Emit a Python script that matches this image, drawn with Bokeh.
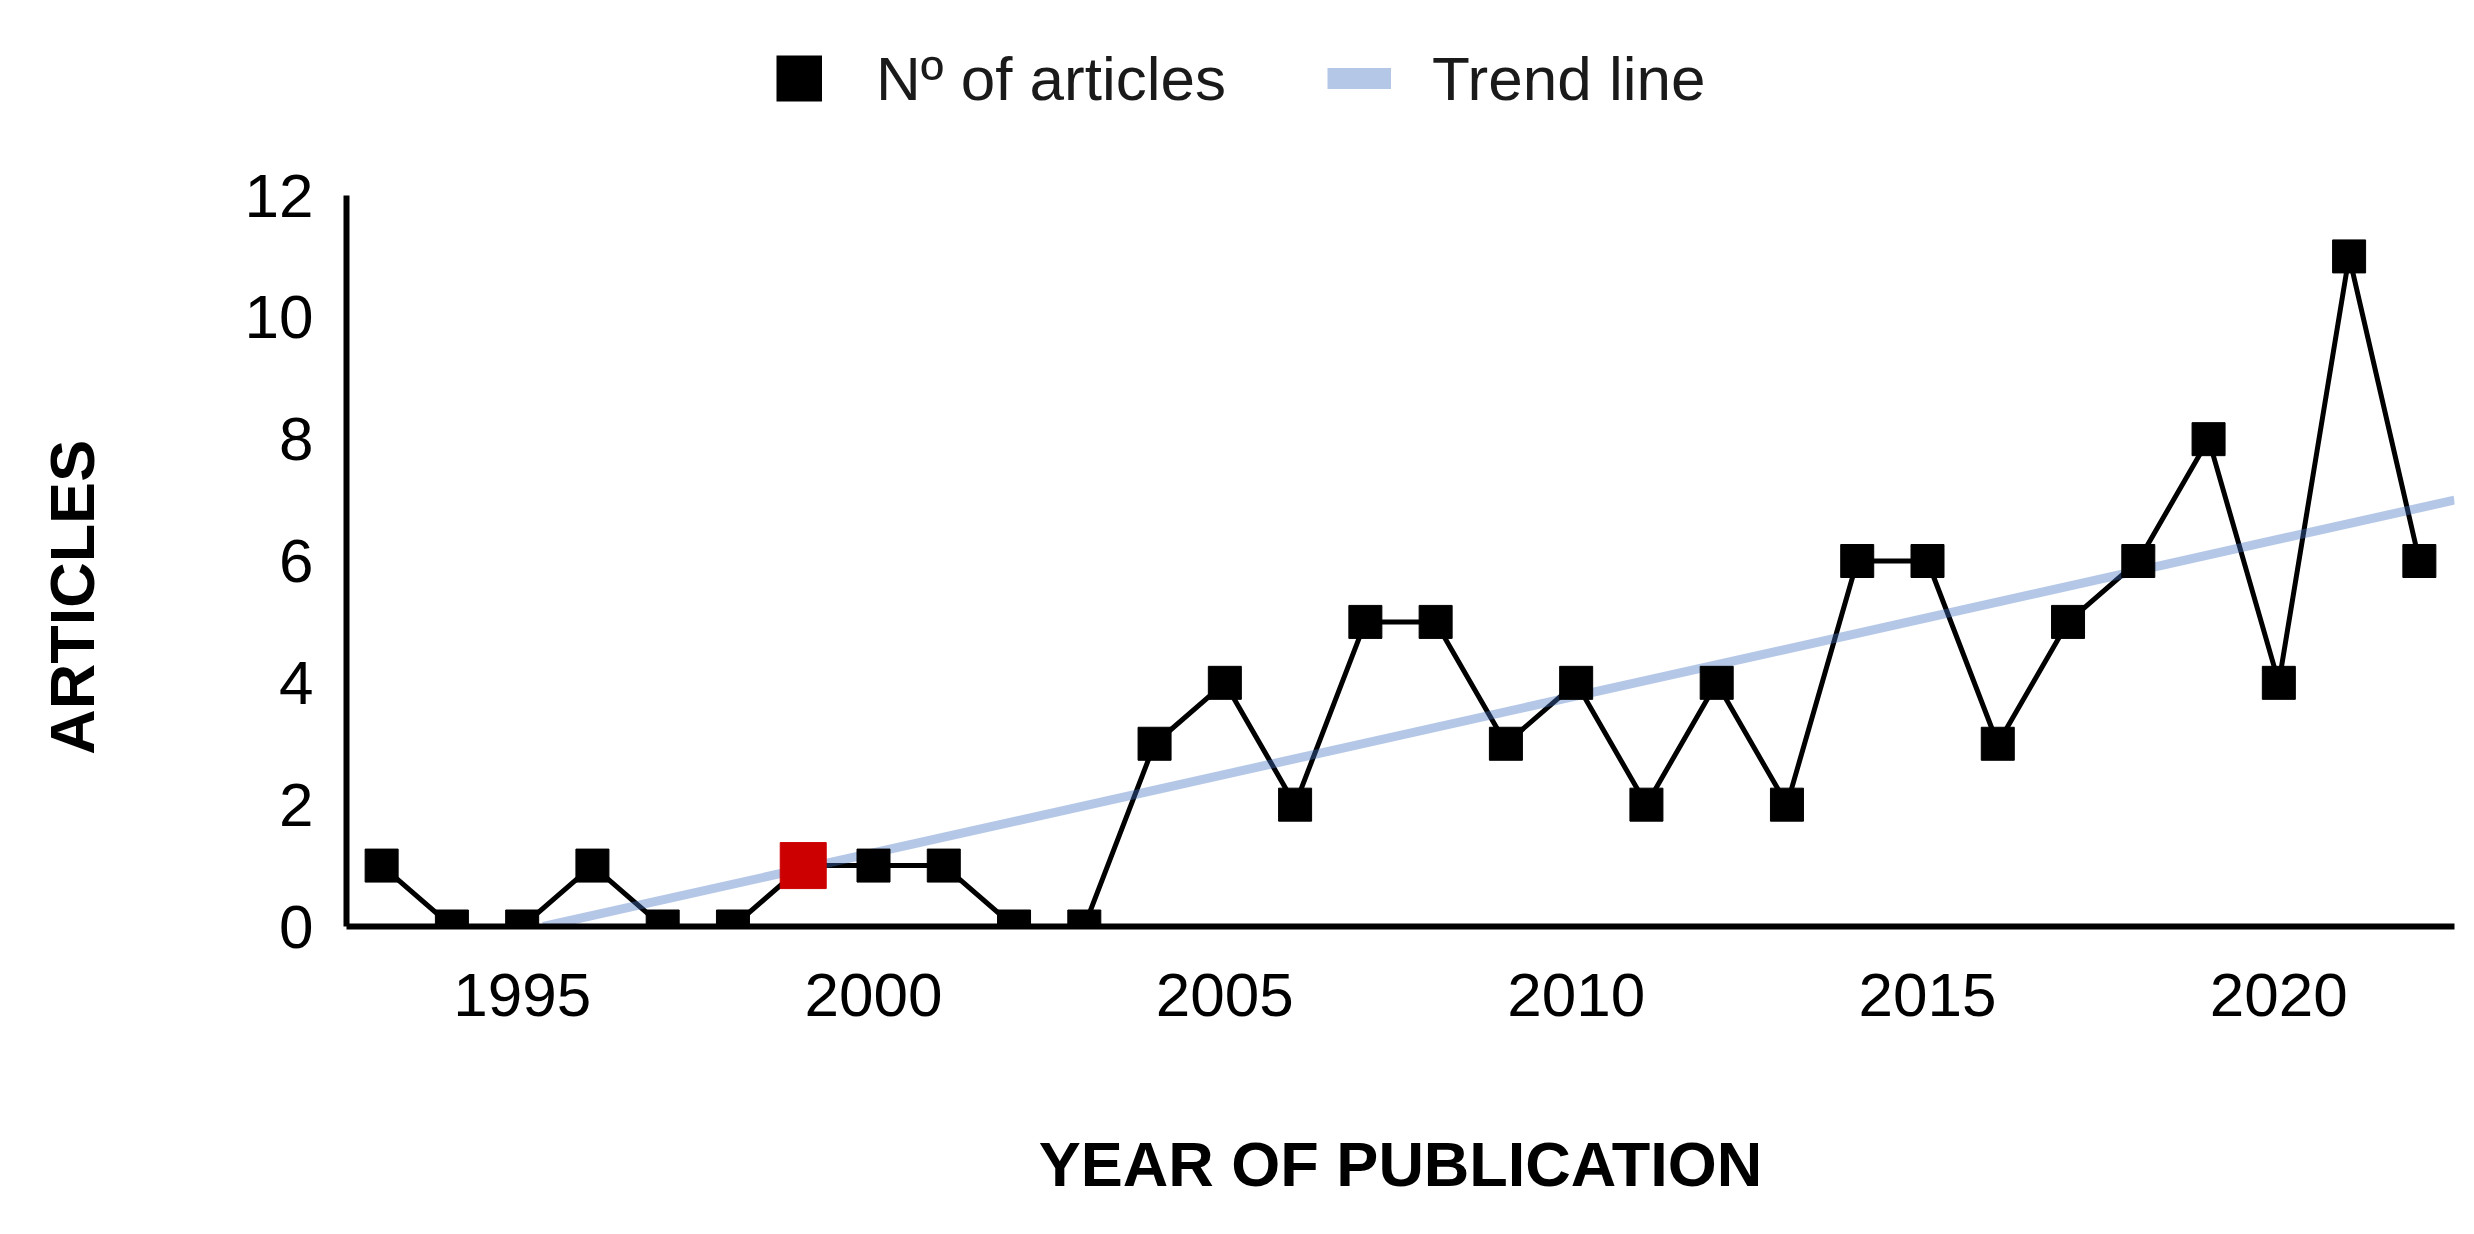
from bokeh.plotting import figure
from bokeh.layouts import column, row
from bokeh.models import Range1d, FixedTicker, Label, Legend, LegendItem, ColumnDataSource
from bokeh.embed import file_html
from bokeh.resources import INLINE

# ---- data ----
years = [1993, 1994, 1995, 1996, 1997, 1998, 1999, 2000, 2001, 2002, 2003, 2004, 2005, 2006,
         2007, 2008, 2009, 2010, 2011, 2012, 2013, 2014, 2015, 2016, 2017, 2018, 2019, 2020,
         2021, 2022]
articles = [1, 0, 0, 1, 0, 0, 1, 1, 1, 0, 0, 3, 4, 2, 5, 5, 3, 4, 2, 4, 2, 6, 6, 3, 5, 6, 8, 4, 11, 6]
highlight_year = [1999]
highlight_value = [1]
trend_x = [1995.3, 2022.5]
trend_y = [0.0, 7.0]
x_ticks = [1995, 2000, 2005, 2010, 2015, 2020]
y_ticks = [0, 2, 4, 6, 8, 10, 12]

FONT = "Liberation Sans"
BLACK_C = "black"
RED_C = "#CC0000"
TREND_C = "#4472C4"
TREND_A = 0.4

TOTAL_W = 2466
LEG_H = 140
LAB_W = 130
MAIN_H = 1086


def bare(width, height):
    f = figure(width=width, height=height, output_backend="svg", toolbar_location=None,
               x_range=Range1d(0, width), y_range=Range1d(0, height),
               x_axis_type=None, y_axis_type=None,
               min_border_left=0, min_border_right=0, min_border_top=0, min_border_bottom=0)
    f.outline_line_color = None
    f.xgrid.grid_line_color = None
    f.ygrid.grid_line_color = None
    f.background_fill_color = "white"
    f.border_fill_color = "white"
    return f


# ---- legend strip (swatch renderers are hidden; only their legend glyphs are shown) ----
lf = bare(TOTAL_W, LEG_H)
sw_art = lf.line(x=years, y=articles, line_color=BLACK_C, line_width=46, line_cap="butt",
                 visible=False)
sw_tr = lf.line(x=trend_x, y=trend_y, line_color=TREND_C, line_alpha=TREND_A, line_width=21,
                line_cap="butt", visible=False)


def make_legend(fig, label, renderer, gw, standoff, loc):
    lg = Legend(items=[LegendItem(label=label, renderers=[renderer])], location=loc,
                glyph_width=gw, glyph_height=80, label_standoff=standoff, label_height=80,
                padding=0, margin=0, spacing=0, border_line_color=None,
                background_fill_alpha=0, inactive_fill_alpha=0,
                label_text_font=FONT, label_text_font_size="62px",
                label_text_color="#1a1a1a", label_text_baseline="middle")
    fig.add_layout(lg, "center")


make_legend(lf, "Nº of articles", sw_art, 46, 54, (776, 22))
make_legend(lf, "Trend line", sw_tr, 64, 41, (1327, 22))

# ---- y title strip (its frame is aligned with the main chart's frame by the row) ----
tf = bare(LAB_W, MAIN_H)
tf.add_layout(Label(x=71, y=489, text="ARTICLES", angle=90, angle_units="deg",
                    text_align="center", text_baseline="middle", text_font=FONT,
                    text_font_size="63px", text_font_style="bold", text_color="black"))

# ---- main chart ----
p = figure(width=TOTAL_W - LAB_W, height=MAIN_H, output_backend="svg", toolbar_location=None,
           x_range=Range1d(1992.5, 2022.5), y_range=Range1d(0, 12),
           min_border_left=216, min_border_right=12, min_border_top=55, min_border_bottom=300)
p.outline_line_color = None
p.background_fill_color = "white"
p.border_fill_color = "white"
p.xgrid.grid_line_color = None
p.ygrid.grid_line_color = None

for ax in (p.xaxis[0], p.yaxis[0]):
    ax.axis_line_color = "black"
    ax.axis_line_width = 6
    ax.major_tick_out = 0
    ax.major_tick_in = 0
    ax.minor_tick_out = 0
    ax.minor_tick_in = 0
    ax.major_label_text_font = FONT
    ax.major_label_text_font_size = "62px"
    ax.major_label_text_color = "black"

p.xaxis[0].ticker = FixedTicker(ticks=x_ticks)
p.yaxis[0].ticker = FixedTicker(ticks=y_ticks)
p.xaxis[0].major_label_standoff = 47
p.yaxis[0].major_label_standoff = 33
p.xaxis[0].axis_label = "YEAR OF PUBLICATION"
p.xaxis[0].axis_label_text_font = FONT
p.xaxis[0].axis_label_text_font_size = "63px"
p.xaxis[0].axis_label_text_font_style = "bold"
p.xaxis[0].axis_label_text_color = "black"
p.xaxis[0].axis_label_standoff = 110

src = ColumnDataSource(dict(x=years, y=articles))
p.line("x", "y", source=src, line_color=BLACK_C, line_width=5)
p.line(trend_x, trend_y, line_color=TREND_C, line_alpha=TREND_A, line_width=9)
p.scatter("x", "y", source=src, marker="square", size=33, fill_color=BLACK_C, line_color=BLACK_C)
p.scatter(highlight_year, highlight_value, marker="square", size=46,
          fill_color=RED_C, line_color=RED_C)

layout = column(lf, row(tf, p, spacing=0), spacing=0)
open("out.html", "w").write(file_html(layout, INLINE))
